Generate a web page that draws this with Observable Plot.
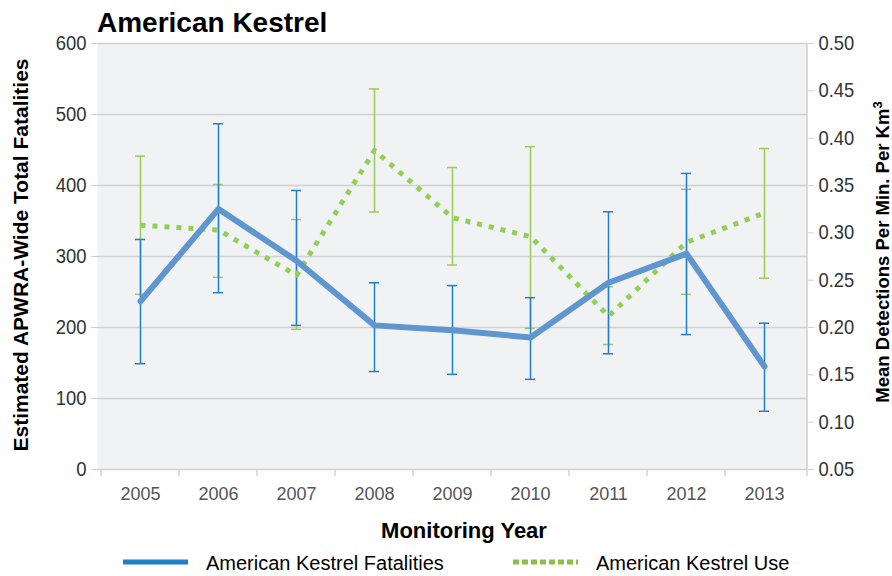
<!DOCTYPE html>
<html><head><meta charset="utf-8">
<script src="https://cdn.jsdelivr.net/npm/d3@7"></script>
<script src="https://cdn.jsdelivr.net/npm/@observablehq/plot@0.6"></script>
<style>
body{margin:0;background:#fff;}
#chart{position:relative;width:892px;height:576px;}
</style></head>
<body><div id="chart"></div>
<script>
const years = ["2005","2006","2007","2008","2009","2010","2011","2012","2013"];
const fatalities = [237, 367, 294, 203, 196, 186, 263, 304, 145];
const fatalLow   = [149, 249, 203, 138, 134, 127, 163, 190, 82];
const fatalHigh  = [324, 487, 393, 263, 259, 242, 363, 417, 206];
const use     = [0.308, 0.303, 0.255, 0.387, 0.316, 0.296, 0.212, 0.290, 0.321];
const useLow  = [0.235, 0.253, 0.198, 0.322, 0.266, 0.199, 0.182, 0.235, 0.252];
const useHigh = [0.381, 0.351, 0.314, 0.452, 0.369, 0.391, 0.243, 0.346, 0.389];
const leftTicks = [0, 100, 200, 300, 400, 500, 600];
const rightTicks = [0.05, 0.10, 0.15, 0.20, 0.25, 0.30, 0.35, 0.40, 0.45, 0.50];

const toLeft = v => (v - 0.05) / 0.45 * 600;
const fromLeft = y => y / 600 * 0.45 + 0.05;

const fat = years.map((y, i) => ({year: y, v: fatalities[i], lo: fatalLow[i], hi: fatalHigh[i]}));
const us = years.map((y, i) => ({year: y, v: toLeft(use[i]), lo: toLeft(useLow[i]), hi: toLeft(useHigh[i])}));

const blue = "#6096cf", blueBar = "#1f7fca", green = "#92cf55", greenBar = "#9cca5e", frame = "#d0d0d0";
const capInset = 34;
const FONT = '"Liberation Sans",Arial,sans-serif';

const plot = Plot.plot({
  width: 892, height: 576,
  marginLeft: 97, marginRight: 85, marginTop: 43, marginBottom: 107,
  style: {background: "transparent", fontFamily: FONT},
  x: {type: "band", domain: years, padding: 0, label: null},
  y: {domain: [0, 600], label: null},
  marks: [
    Plot.frame({fill: "#f1f2f4", stroke: null}),
    Plot.gridY(leftTicks.slice(1), {stroke: frame, strokeOpacity: 1, strokeWidth: 1.5}),
    Plot.ruleX([0], {frameAnchor: "left", stroke: frame, strokeWidth: 1.5}),
    Plot.ruleY([0], {stroke: frame, strokeWidth: 1.5}),
    Plot.axisY(leftTicks, {anchor: "left", tickSize: 6, tickPadding: 5, fontSize: 21, stroke: frame, color: "#333", label: null}),
    Plot.axisY(rightTicks.map(toLeft), {anchor: "right", tickSize: 6, tickPadding: 5, fontSize: 20, stroke: frame, color: "#333", label: null, tickFormat: d => fromLeft(d).toFixed(2)}),
    Plot.axisX({anchor: "bottom", tickSize: 0, tickPadding: 18, fontSize: 18, color: "#555", label: null}),
    // use error bars
    Plot.ruleX(us, {x: "year", y1: "lo", y2: "hi", stroke: greenBar, strokeWidth: 1.5}),
    Plot.tickY(us, {x: "year", y: "lo", stroke: greenBar, strokeWidth: 1.5, insetLeft: capInset, insetRight: capInset}),
    Plot.tickY(us, {x: "year", y: "hi", stroke: greenBar, strokeWidth: 1.5, insetLeft: capInset, insetRight: capInset}),
    // fatalities error bars
    Plot.ruleX(fat, {x: "year", y1: "lo", y2: "hi", stroke: blueBar, strokeWidth: 1.5}),
    Plot.tickY(fat, {x: "year", y: "lo", stroke: blueBar, strokeWidth: 1.5, insetLeft: capInset, insetRight: capInset}),
    Plot.tickY(fat, {x: "year", y: "hi", stroke: blueBar, strokeWidth: 1.5, insetLeft: capInset, insetRight: capInset}),
    Plot.lineY(us, {x: "year", y: "v", stroke: green, strokeWidth: 5, strokeDasharray: "5,7", strokeLinecap: "butt"}),
    Plot.lineY(fat, {x: "year", y: "v", stroke: blue, strokeWidth: 6, strokeLinejoin: "round"})
  ]
});

const svg = d3.select(plot);
// narrow the y tick labels
svg.selectAll('g[aria-label="y-axis tick label"] text').each(function() {
  const anchor = this.getAttribute("text-anchor") || this.parentNode.getAttribute("text-anchor") || "";
  const k = anchor === "start" ? 0.92 : 0.88;
  const x = +(this.getAttribute("x") || 0);
  if (x) this.setAttribute("x", x / k);
  const tr = this.getAttribute("transform") || "";
  this.setAttribute("transform", tr + ` scale(${k},1)`);
});

svg.append("line").attr("x1", 807).attr("x2", 807).attr("y1", 43).attr("y2", 469).attr("stroke", frame).attr("stroke-width", 1.5);
const xs = plot.scale("x");
years.forEach(y => {
  const x0 = xs.apply(y);
  svg.append("line").attr("x1", x0).attr("x2", x0).attr("y1", 469).attr("y2", 476).attr("stroke", frame).attr("stroke-width", 1.5);
});
svg.append("line").attr("x1", 807).attr("x2", 807).attr("y1", 469).attr("y2", 476).attr("stroke", frame).attr("stroke-width", 1.5);

const T = (x, y, s, opts = {}) => {
  const t = svg.append("text").attr("x", x).attr("y", y).text(s)
    .attr("font-family", FONT)
    .attr("font-size", opts.size || 18).attr("font-weight", opts.weight || "normal")
    .attr("fill", opts.fill || "#000").attr("text-anchor", opts.anchor || "start");
  if (opts.rotate) t.attr("transform", `rotate(${opts.rotate},${x},${y})`);
  return t;
};
T(97, 32, "American Kestrel", {size: 28, weight: "bold"});
T(28, 255, "Estimated APWRA-Wide Total Fatalities", {size: 21, weight: "bold", anchor: "middle", rotate: -90});
const rt = T(889, 252, "", {size: 18.5, weight: "bold", anchor: "middle", rotate: -90});
rt.append("tspan").text("Mean Detections Per Min. Per Km");
rt.append("tspan").text("3").attr("font-size", 13).attr("dy", -7);
T(464, 538, "Monitoring Year", {size: 22, weight: "bold", anchor: "middle"});
// legend
svg.append("line").attr("x1", 123).attr("x2", 188).attr("y1", 562).attr("y2", 562).attr("stroke", "#1f7fca").attr("stroke-width", 5);
T(206, 570, "American Kestrel Fatalities", {size: 20});
svg.append("line").attr("x1", 513).attr("x2", 578).attr("y1", 562).attr("y2", 562).attr("stroke", "#8cbf45").attr("stroke-width", 5).attr("stroke-dasharray", "6,3");
T(596, 570, "American Kestrel Use", {size: 20});

document.getElementById("chart").appendChild(plot);
</script></body></html>
